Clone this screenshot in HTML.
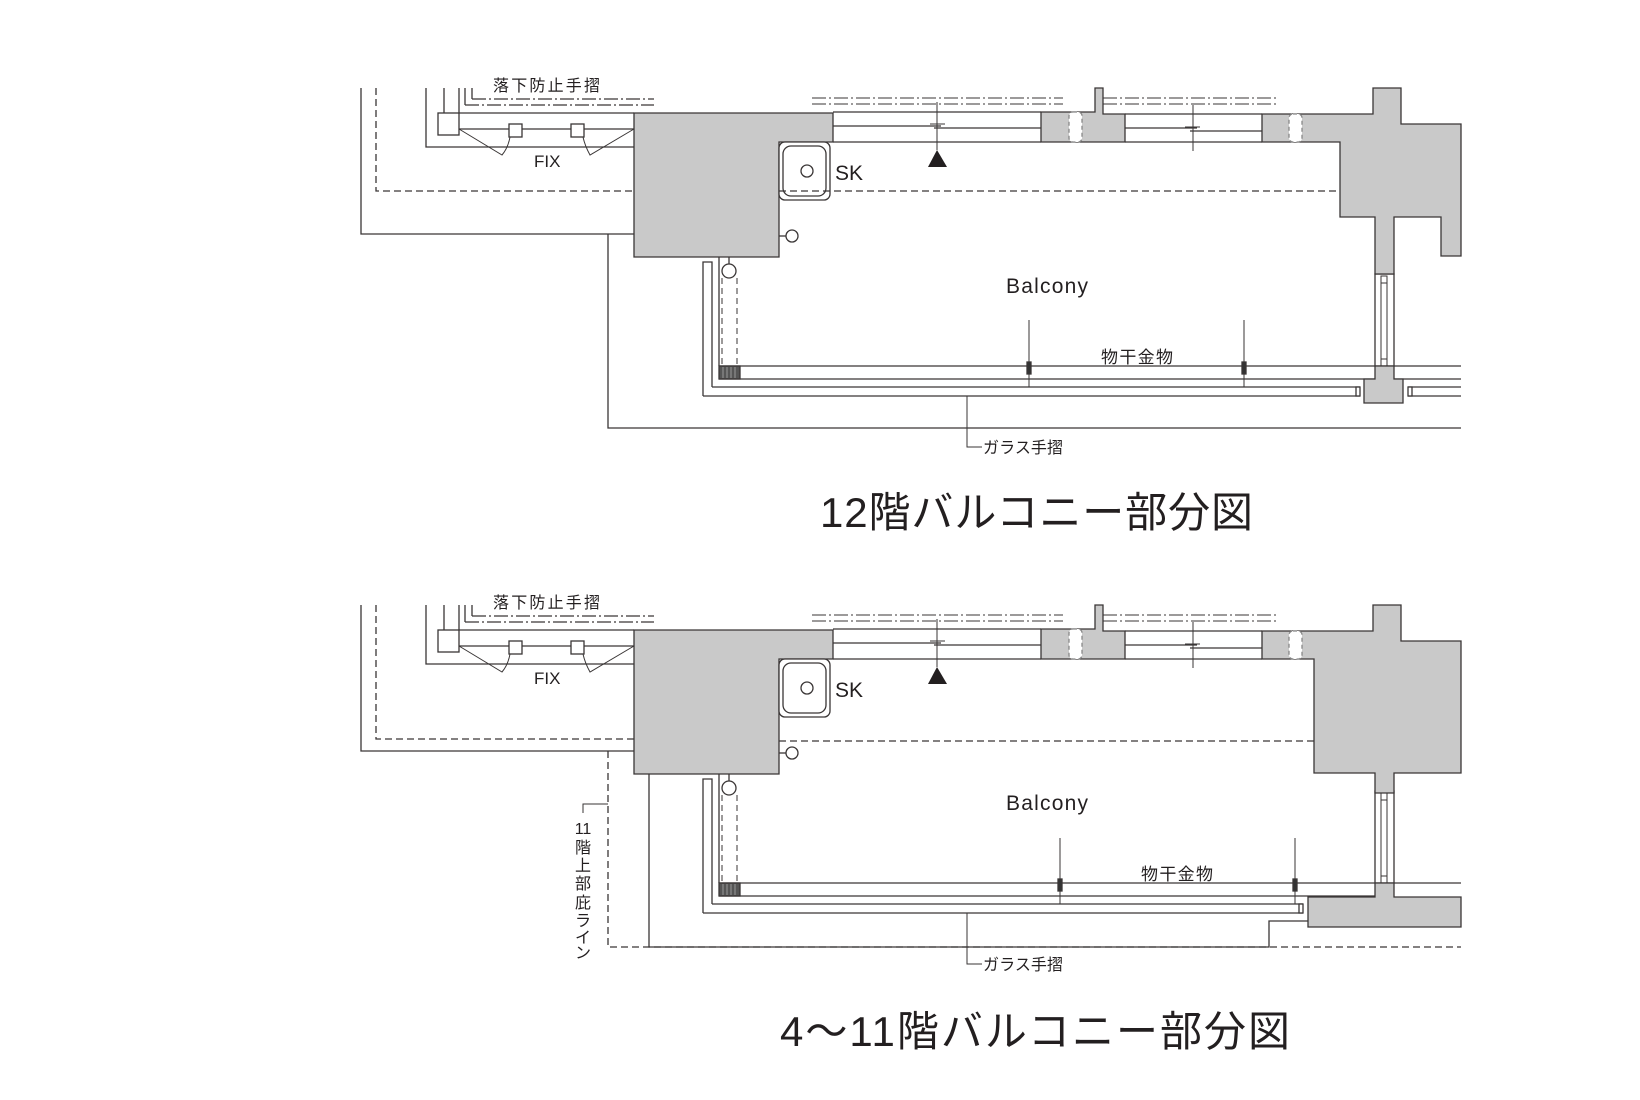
<!DOCTYPE html>
<html><head><meta charset="utf-8"><style>
html,body{margin:0;padding:0;background:#fff;}
svg{display:block;}
text{font-family:"Liberation Sans","Noto Sans CJK JP",sans-serif;fill:#231f20;}
</style></head><body>
<svg width="1640" height="1100" viewBox="0 0 1640 1100" xmlns="http://www.w3.org/2000/svg">
<defs>
<g id="common" fill="none" stroke="#3a3636" stroke-width="1.3">
  <!-- left area -->
  <path d="M361,88V234H634"/>
  <path d="M426,88V147H634"/>
  <path d="M444,88V113"/>
  <rect x="438" y="113" width="21" height="22" fill="#fff"/>
  <path d="M459,88V113H634"/>
  <path d="M465,88V105M472,88V99"/>
  <path d="M465,105H654M472,99H654" stroke-dasharray="14,3,2,3"/>
  <path d="M459,129H634"/>
  <rect x="509" y="124" width="13" height="13" fill="#fff"/>
  <rect x="571" y="124" width="13" height="13" fill="#fff"/>
  <path d="M459,129L502,155Q508,148 510,137M634,129L590,155Q585,146 583,137" stroke-width="1"/>
  <!-- middle dash-dot -->
  <path d="M812,98H1063M812,104H1063M1103,98H1276M1103,104H1276" stroke-dasharray="14,3,2,3" stroke-width="1.1"/>
  <!-- grey block -->
  <polygon points="634,113 833,113 833,142 779,142 779,257 634,257" fill="#c9c9c9"/>
  <!-- sink -->
  <rect x="779" y="142" width="51" height="58" rx="6" fill="#fff"/>
  <rect x="783" y="146" width="43" height="50" rx="8"/>
  <circle cx="807" cy="171" r="6"/>
  <path d="M779,236H786"/><circle cx="792" cy="236" r="6" fill="#fff"/>
  <path d="M729,257V264"/><circle cx="729" cy="271" r="7" fill="#fff"/>
  <path d="M719,257V366"/>
  <path d="M722,278V366M737,278V366" stroke-dasharray="6,4" stroke-width="1"/>
  <path d="M703,396V262H712V387"/>
  <!-- windows -->
  <path d="M833,112H1041M833,142H1041M833,126H941M934,128H1041"/>
  <path d="M937,102V150M930,124H945" stroke-width="1"/>
  <polygon points="937,150 928,167 947,167" fill="#231f20" stroke="none"/>
  <polygon points="1041,112 1095,112 1095,88 1103,88 1103,114 1125,114 1125,142 1041,142" fill="#c9c9c9"/>
  <rect x="1069" y="112" width="13" height="30" rx="4" fill="#fff" stroke="#888" stroke-dasharray="4,3"/>
  <path d="M1125,114H1262M1125,142H1262M1125,128H1197M1190,131H1262"/>
  <path d="M1193,105V151M1185,127H1200" stroke-width="1"/>
  <!-- rails -->
  <path d="M719,366H1375M719,379H1375M1394,366H1461"/>
  <rect x="719" y="366" width="21" height="13" fill="#555"/>
  <path d="M723,367V378M727,367V378M731,367V378M735,367V378" stroke="#999" stroke-width="1"/>
  <!-- column window -->
  <rect x="1375" y="274" width="19" height="92" fill="#fff"/>
  <rect x="1381" y="276" width="6" height="90" stroke-width="1"/>
  <path d="M1381,283H1387M1381,359H1387" stroke-width="1"/>
</g>
</defs>

<!-- TOP (12F) -->
<g>
  <use href="#common"/>
  <g fill="none" stroke="#3a3636" stroke-width="1.3">
    <path d="M376,88V191H634" stroke-dasharray="7,4"/>
    <path d="M779,191H1340" stroke-dasharray="7,4"/>
    <polygon points="1262,114 1373,114 1373,88 1401,88 1401,124 1461,124 1461,256 1441,256 1441,217 1394,217 1394,274 1375,274 1375,217 1340,217 1340,142 1262,142" fill="#c9c9c9"/>
    <rect x="1289" y="114" width="13" height="28" rx="4" fill="#fff" stroke="#888" stroke-dasharray="4,3"/>
    <path d="M1394,379H1461"/>
    <polygon points="1364,379 1375,379 1375,366 1394,366 1394,379 1403,379 1403,403 1364,403" fill="#c9c9c9"/>
    <path d="M712,387H1360M703,396H1360"/>
    <rect x="1356" y="387" width="4" height="9" fill="#fff"/>
    <path d="M1408,387H1461M1408,396H1461"/>
    <rect x="1408" y="387" width="4" height="9" fill="#fff"/>
    <path d="M608,234V428H1461"/>
    <path d="M967,396V447H982" stroke-width="1"/>
    <path d="M1029,320V387M1244,320V387" stroke-width="1"/>
    <rect x="1027" y="362" width="4" height="12" fill="#333"/>
    <rect x="1242" y="362" width="4" height="12" fill="#333"/>
  </g>
  <text x="493" y="91" font-size="16" textLength="107">落下防止手摺</text>
  <text x="534" y="167" font-size="17">FIX</text>
  <text x="835" y="180" font-size="21">SK</text>
  <text x="1006" y="293" font-size="21" textLength="82">Balcony</text>
  <text x="1101" y="363" font-size="17" textLength="72">物干金物</text>
  <text x="983" y="453" font-size="16" textLength="80">ガラス手摺</text>
  <text x="820" y="527" font-size="42" textLength="433">12階バルコニー部分図</text>
</g>

<!-- BOTTOM (4-11F) -->
<g transform="translate(0,517)">
  <use href="#common"/>
  <g fill="none" stroke="#3a3636" stroke-width="1.3">
    <path d="M376,88V222H634" stroke-dasharray="7,4"/>
    <path d="M779,224H1314" stroke-dasharray="7,4"/>
    <polygon points="1262,114 1373,114 1373,88 1401,88 1401,124 1461,124 1461,256 1394,256 1394,276 1375,276 1375,256 1314,256 1314,142 1262,142" fill="#c9c9c9"/>
    <rect x="1289" y="114" width="13" height="28" rx="4" fill="#fff" stroke="#888" stroke-dasharray="4,3"/>
    <polygon points="1308,380 1375,380 1375,366 1394,366 1394,380 1461,380 1461,410 1308,410" fill="#c9c9c9"/>
    <path d="M712,387H1303M703,396H1303"/>
    <rect x="1299" y="387" width="4" height="9" fill="#fff"/>
    <path d="M608,234V430H1461" stroke-dasharray="7,4"/>
    <path d="M649,257V430H1269V404H1308"/>
    <path d="M608,287H583V296" stroke-width="1"/>
    <path d="M967,396V447H982" stroke-width="1"/>
    <path d="M1060,321V387M1295,321V387" stroke-width="1"/>
    <rect x="1058" y="362" width="4" height="12" fill="#333"/>
    <rect x="1293" y="362" width="4" height="12" fill="#333"/>
  </g>
  <text x="493" y="91" font-size="16" textLength="107">落下防止手摺</text>
  <text x="534" y="167" font-size="17">FIX</text>
  <text x="835" y="180" font-size="21">SK</text>
  <text x="1006" y="293" font-size="21" textLength="82">Balcony</text>
  <text x="1141" y="363" font-size="17" textLength="72">物干金物</text>
  <text x="983" y="453" font-size="16" textLength="80">ガラス手摺</text>
  <g font-size="16" text-anchor="middle">
    <text x="583" y="317">11</text>
    <text x="583" y="336">階</text>
    <text x="583" y="354">上</text>
    <text x="583" y="372">部</text>
    <text x="583" y="391">庇</text>
    <text x="583" y="409">ラ</text>
    <text x="583" y="426">イ</text>
    <text x="583" y="441">ン</text>
  </g>
  <text x="780" y="529" font-size="42" textLength="510">4～11階バルコニー部分図</text>
</g>
</svg>
</body></html>
